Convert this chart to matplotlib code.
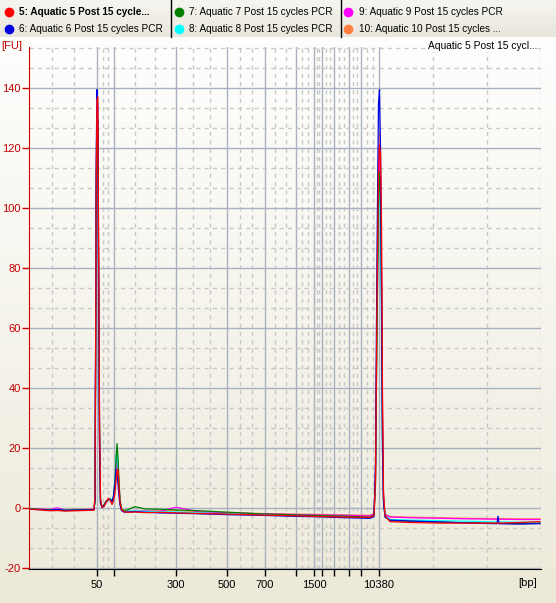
import numpy as np
import matplotlib.pyplot as plt

# figure size in pixels
W, H = 556, 603

# shared migration positions (axis units) for all traces
x = [29, 40, 50, 57, 65, 75, 85, 94,
     95, 95.6, 96.3, 97, 97.8, 98.6, 99.5, 100.5, 102, 104, 106,
     108.5, 110.5, 112, 113.5, 115, 116, 117, 118, 119, 120, 121.5,
     124, 128, 135, 145, 160, 176, 200, 230, 260, 290, 320, 345,
     370, 374, 375.5, 377, 378.5, 379.5, 380.5, 381.5, 382.5, 383.5, 385,
     390, 410, 440, 470, 497, 498, 499, 520, 540]

# fluorescence [FU] of each sample
s5 = [-0.3, -0.6, -0.9, -0.8, -1.0, -0.9, -0.8, -0.7,
      4, 50, 110, 136, 137, 90, 32, 3, 0.3, 0.5, 1.8,
      3.2, 2.5, 1.2, 2.5, 5, 9, 12.5, 12.8, 7, 2, -0.5,
      -1.2, -1.4, -1.3, -1.5, -1.4, -1.6, -1.8, -2.0, -2.3, -2.5, -2.8, -3.0,
      -3.1, -2.5, 10, 70, 112, 121, 118, 95, 38, 5, -2.5,
      -4.5, -4.8, -5.0, -5.0, -5.0, -5.0, -5.0, -4.8, -4.5]
s6 = [-0.4, -0.5, -0.7, -0.5, -0.8, -0.7, -0.6, -0.6,
      3, 55, 120, 139.5, 134, 80, 25, 2, 0.2, 0.8, 2.0,
      3.0, 2.8, 2.0, 4, 8, 13, 11, 8, 4, 1, -0.8,
      -1.3, -1.3, -1.2, -1.4, -1.6, -1.7, -1.9, -2.2, -2.4, -2.7, -2.9, -3.2,
      -3.4, -2.8, 15, 85, 135, 139.5, 120, 70, 20, 2, -3.0,
      -4.0, -4.3, -4.6, -5.0, -5.2, -2.7, -5.2, -5.3, -5.2]
s7 = [-0.2, -0.4, -0.6, -0.5, -0.7, -0.6, -0.5, -0.5,
      2, 45, 105, 132, 128, 75, 22, 1.5, 0.5, 1.0, 2.2,
      2.8, 3.0, 2.0, 3.5, 9, 16, 21.5, 17, 9, 3, -0.3,
      -0.8, -0.5, 0.5, -0.3, -0.4, -0.6, -0.9, -1.4, -1.9, -2.2, -2.5, -2.7,
      -3.0, -2.4, 8, 60, 100, 112, 105, 75, 25, 3, -2.8,
      -4.2, -4.4, -4.7, -4.9, -5.1, -5.1, -5.1, -5.2, -5.0]
s8 = [-0.3, -0.5, -0.6, -0.4, -0.7, -0.7, -0.6, -0.5,
      2.5, 48, 108, 128, 122, 70, 30, 2, 0.4, 0.9, 2.1,
      2.9, 3.2, 2.2, 4.0, 10, 17, 19, 14, 7, 2, -0.5,
      -1.1, -1.0, -0.9, -1.1, -1.2, -1.3, -1.6, -1.9, -2.2, -2.5, -2.8, -3.0,
      -3.2, -2.6, 12, 65, 98, 106, 95, 60, 18, 2, -2.6,
      -3.8, -4.0, -4.2, -4.4, -4.6, -4.6, -4.6, -4.7, -4.6]
s9 = [-0.2, -0.3, -0.5, 0.1, -0.6, -0.5, -0.5, -0.4,
      3, 52, 112, 126, 120, 72, 20, 1.5, 0.3, 0.7, 1.9,
      3.1, 2.7, 1.5, 3.0, 8, 12, 15.5, 14, 8, 2.5, -0.6,
      -1.2, -1.1, -1.0, -1.0, -1.1, 0.3, -1.3, -1.6, -1.9, -2.1, -2.3, -2.4,
      -2.6, -2.0, 10, 62, 105, 117, 110, 80, 30, 4, -2.2,
      -3.0, -3.2, -3.4, -3.6, -3.7, -3.7, -3.7, -3.8, -3.8]
s10 = [-0.1, -0.3, -0.4, -0.2, -0.5, -0.4, -0.4, -0.3,
       3.5, 50, 115, 133, 130, 85, 28, 2.5, 0.6, 1.1, 2.4,
       3.3, 2.9, 1.8, 3.5, 9, 17.5, 16, 12, 6, 2, -0.4,
       -1.0, -1.0, -0.8, -0.9, -1.0, -0.8, -1.2, -1.5, -1.8, -2.0, -2.1, -2.3,
       -2.4, -1.8, 9, 68, 115, 125, 119, 88, 33, 4, -2.0,
       -2.8, -3.0, -3.2, -3.4, -3.5, -3.5, -3.5, -3.6, -3.6]

names = ['5: Aquatic 5 Post 15 cycle...', '6: Aquatic 6 Post 15 cycles PCR',
         '7: Aquatic 7 Post 15 cycles PCR', '8: Aquatic 8 Post 15 cycles PCR',
         '9: Aquatic 9 Post 15 cycles PCR', '10: Aquatic 10 Post 15 cycles ...']
colors = ['#FF0000', '#0000E0', '#008000', '#00FFFF', '#FF00FF', '#FF8040']

# ladder ticks (positions on the migration axis) and their labels
tick_pos = [97, 114, 176, 227, 265, 296, 314, 322, 334, 349, 361, 379]
tick_lab = ['50', '', '300', '500', '700', '', '1500', '', '', '', '', '10380']
x_min, x_max = 29, 541
y_min, y_max = -20.3, 153.7

plt.rcParams['font.family'] = ['Liberation Sans', 'DejaVu Sans']
plt.rcParams['axes.unicode_minus'] = False

fig = plt.figure(figsize=(W / 100, H / 100), dpi=100)

# window background: legend band + vertical gradient
img = np.zeros((H, 1, 3))
band = 37
img[:band, 0] = np.linspace([246, 245, 240], [233, 231, 220], band) / 255
img[band:569, 0] = np.linspace([254, 254, 253], [238, 235, 221], 569 - band) / 255
img[569:, 0] = np.array([236, 233, 216]) / 255
bg = fig.add_axes([0, 0, 1, 1], zorder=-10)
bg.imshow(img, extent=[0, W, H, 0], aspect='auto', interpolation='bilinear')
bg.set_xlim(0, W)
bg.set_ylim(H, 0)
bg.axis('off')
for sx in [170.5, 340.5]:
    bg.plot([sx, sx], [0, band], color='black', lw=1)

# legend entries
leg_x = [(9, 19), (179, 189), (348, 359)]
leg_y = [12, 28.5]
order = [(0, 0), (0, 1), (1, 0), (1, 1), (2, 0), (2, 1)]
for i, (c, r) in enumerate(order):
    mx, tx = leg_x[c]
    bg.plot(mx, leg_y[r], 'o', ms=6, color=colors[i], mec=colors[i])
    bg.text(tx, leg_y[r], names[i], fontsize=7.2, va='center', ha='left',
            fontweight='bold' if i == 0 else 'normal')

ax = fig.add_axes([x_min / W, (H - 569) / H, (x_max - x_min) / W, 522 / H])
ax.set_facecolor('none')

for i in [5, 4, 3, 2, 1, 0]:
    ys = [s5, s6, s7, s8, s9, s10][i]
    ax.plot(x, ys, color=colors[i], lw=0.9, zorder=3)

ax.set_xlim(x_min, x_max)
ax.set_ylim(y_min, y_max)

ax.set_xticks(tick_pos)
ax.set_xticklabels(tick_lab)
bounds = [x_min] + tick_pos + [x_max]
minor_x = []
for a, b in zip(bounds[:-1], bounds[1:]):
    minor_x += [a + (b - a) / 3, a + 2 * (b - a) / 3]
minor_x.append(x_max)
ax.set_xticks(minor_x, minor=True)
ax.set_yticks(np.arange(-20, 141, 20))
ax.set_yticks(np.arange(-20, 154, 20 / 3), minor=True)

ax.grid(which='major', color='#A9B1C0', lw=1, ls='-', zorder=1)
ax.grid(which='minor', color='#C8C8C8', lw=1, ls=(0, (3, 3)), zorder=1)
ax.set_axisbelow(True)

ax.spines['top'].set_visible(False)
ax.spines['right'].set_visible(False)
ax.spines['left'].set_color('#D00000')
ax.spines['bottom'].set_color('black')
ax.tick_params(axis='y', which='major', colors='#D00000', labelcolor='#C00000',
               length=5, width=1, labelsize=8, pad=1)
ax.tick_params(axis='x', which='major', colors='black', length=5, width=1,
               labelsize=8, pad=3)
ax.tick_params(which='minor', length=0)

fig.text(1 / W, 1 - 46 / H, '[FU]', color='#C00000', fontsize=8, va='center', ha='left')
fig.text(537 / W, 1 - 583 / H, '[bp]', color='black', fontsize=8, va='center', ha='right')
fig.text(537 / W, 1 - 46 / H, 'Aquatic 5 Post 15 cycl...', color='black', fontsize=7.4,
         va='center', ha='right',
         bbox=dict(facecolor='#FDFDFC', edgecolor='none', pad=1))

fig.savefig('out.png', dpi=100)
